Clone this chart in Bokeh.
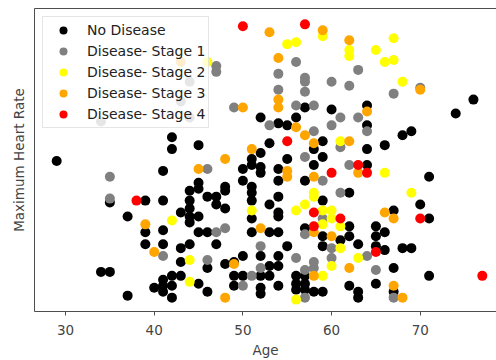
from bokeh.plotting import figure
from bokeh.models import Range1d, LinearAxis, FixedTicker
from bokeh.embed import file_html
from bokeh.resources import INLINE

# ---------------- data (age, maximum heart rate) ----------------
no_age = [76, 74, 57, 60, 64, 52, 56, 54, 55, 64, 53, 59, 64, 66, 68, 69, 52, 58, 59, 55,
          51, 51, 52, 52, 58, 64, 54, 71, 29, 42, 42, 45, 41, 50, 54, 57, 41, 39, 35, 37,
          39, 39, 41, 41, 43, 43, 43, 44, 44, 44, 44, 44, 44, 45, 45, 45, 45, 45, 46, 46,
          46, 46, 47, 47, 47, 48, 48, 48, 48, 49, 49, 49, 50, 50, 50, 34, 35, 37, 40, 41,
          41, 41, 42, 42, 42, 43, 51, 51, 51, 51, 51, 53, 54, 54, 54, 53, 54, 55, 52, 54,
          53, 54, 52, 53, 52, 52, 54, 56, 56, 56, 57, 57, 57, 58, 57, 59, 62, 59, 59, 61,
          62, 62, 63, 65, 65, 65, 66, 66, 68, 69, 67, 70, 71, 67, 65, 67, 71, 62, 63, 63, 59]
no_hr = [167, 160, 163, 162, 164, 158, 158, 155, 154, 154, 145, 146, 142, 144, 149, 151, 140, 142, 138, 137,
         137, 134, 133, 130, 134, 134, 132, 128, 136, 148, 142, 144, 131, 132, 126, 126, 116, 116, 115, 108,
         100, 94, 101, 94, 110, 92, 85, 121, 116, 112, 108, 105, 94, 125, 122, 108, 100, 74, 118, 100,
         82, 70, 118, 114, 94, 123, 121, 112, 84, 85, 78, 73, 126, 78, 88, 80, 80, 68, 72, 76,
         73, 70, 78, 73, 67, 78, 123, 120, 116, 107, 100, 114, 118, 110, 108, 100, 100, 93, 88, 88,
         83, 83, 78, 78, 72, 69, 73, 78, 74, 71, 78, 74, 71, 70, 102, 116, 120, 98, 93, 96,
         103, 98, 94, 103, 98, 93, 100, 91, 92, 92, 111, 114, 107, 82, 74, 70, 78, 73, 70, 67, 70]

s1_age = [47, 47, 56, 54, 57, 57, 60, 63, 62, 67, 70, 54, 57, 49, 56, 58, 61, 63, 53, 60,
          64, 58, 61, 57, 46, 62, 59, 35, 35, 47, 48, 41, 46, 50, 51, 52, 52, 61, 59, 57,
          60, 56, 60, 64, 58, 57, 58, 65, 57, 67, 44, 43, 44, 34]
s1_hr = [184, 181, 186, 180, 178, 176, 176, 182, 174, 170, 173, 172, 171, 163, 164, 164, 158, 158, 154, 154,
         151, 151, 143, 138, 132, 134, 126, 128, 117, 100, 102, 88, 86, 73, 78, 93, 82, 120, 107, 99,
         92, 87, 87, 88, 85, 81, 82, 81, 67, 67, 176, 166, 158, 156]

s2_age = [59, 55, 56, 62, 62, 67, 65, 66, 67, 68, 61, 66, 69, 42, 44, 44, 51, 58, 58, 57,
          56, 59, 60, 60, 59, 61, 61, 63, 60, 59, 56, 46]
s2_hr = [199, 195, 196, 192, 189, 198, 192, 186, 187, 176, 146, 130, 120, 106, 86, 75, 111, 120, 118, 114,
         111, 111, 111, 107, 104, 103, 92, 87, 83, 78, 66, 186]

s3_age = [53, 59, 62, 54, 70, 54, 54, 50, 64, 56, 57, 58, 62, 51, 48, 45, 55, 63, 55, 58,
          39, 40, 48, 49, 52, 58, 60, 62, 58, 66, 67, 67, 68, 43]
s3_hr = [201, 202, 197, 188, 172, 167, 163, 163, 161, 153, 149, 145, 146, 142, 137, 132, 131, 130, 128, 128,
         104, 90, 67, 84, 102, 100, 98, 82, 78, 110, 107, 73, 67, 186]

s4_age = [50, 57, 55, 63, 64, 60, 38, 58, 58, 61, 65, 70, 77]
s4_hr = [204, 205, 146, 134, 130, 130, 116, 110, 103, 107, 90, 107, 78]

series = [
    ("No Disease", no_age, no_hr, "#000000"),
    ("Disease- Stage 1", s1_age, s1_hr, "#808080"),
    ("Disease- Stage 2", s2_age, s2_hr, "#ffff00"),
    ("Disease- Stage 3", s3_age, s3_hr, "#ffa500"),
    ("Disease- Stage 4", s4_age, s4_hr, "#ff0000"),
]
x_ticks = [30, 40, 50, 60, 70]

FONT = "DejaVu Sans"
SPINE = "#4d4d4d"

p = figure(width=496, height=360, output_backend="svg", toolbar_location=None,
           x_range=Range1d(26.5, 78.6), y_range=Range1d(60, 213),
           min_border_left=34, min_border_right=0, min_border_top=8, min_border_bottom=46,
           x_axis_label="Age", y_axis_label="Maximum Heart Rate")
p.outline_line_color = None
p.grid.visible = False
p.background_fill_color = "white"
p.border_fill_color = "white"

for name, xs, ys, col in series:
    p.scatter(xs, ys, size=10, fill_color=col, line_color=None, legend_label=name)

# x axis
xa = p.xaxis[0]
xa.ticker = FixedTicker(ticks=x_ticks)
xa.major_tick_in = 0
xa.major_tick_out = 4
xa.minor_tick_line_color = None
xa.major_tick_line_color = SPINE
xa.axis_line_color = SPINE
xa.major_label_standoff = 9
xa.major_label_text_font = FONT
xa.major_label_text_font_size = "13.5px"
xa.major_label_text_color = "#444444"
xa.axis_label_text_font = FONT
xa.axis_label_text_font_size = "13.5px"
xa.axis_label_text_font_style = "normal"
xa.axis_label_text_color = "#444444"
xa.axis_label_standoff = 4

# y axis (no ticks)
ya = p.yaxis[0]
ya.ticker = FixedTicker(ticks=[])
ya.major_tick_in = 0
ya.major_tick_out = 0
ya.minor_tick_line_color = None
ya.axis_line_color = SPINE
ya.axis_label_text_font = FONT
ya.axis_label_text_font_size = "13.5px"
ya.axis_label_text_font_style = "normal"
ya.axis_label_text_color = "#444444"
ya.axis_label_standoff = 8

# top spine
top = LinearAxis(ticker=FixedTicker(ticks=[]), major_tick_in=0, major_tick_out=0,
                 minor_tick_line_color=None, axis_line_color=SPINE)
p.add_layout(top, "above")

lg = p.legend[0]
lg.location = "top_left"
lg.margin = 8
lg.padding = 3
lg.spacing = 1
lg.glyph_width = 34
lg.glyph_height = 20
lg.label_height = 20
lg.label_standoff = 7
lg.label_text_font = FONT
lg.label_text_font_size = "14px"
lg.label_text_color = "#222222"
lg.border_line_color = "#cccccc"
lg.background_fill_alpha = 0.8

open("out.html", "w").write(file_html(p, INLINE))
